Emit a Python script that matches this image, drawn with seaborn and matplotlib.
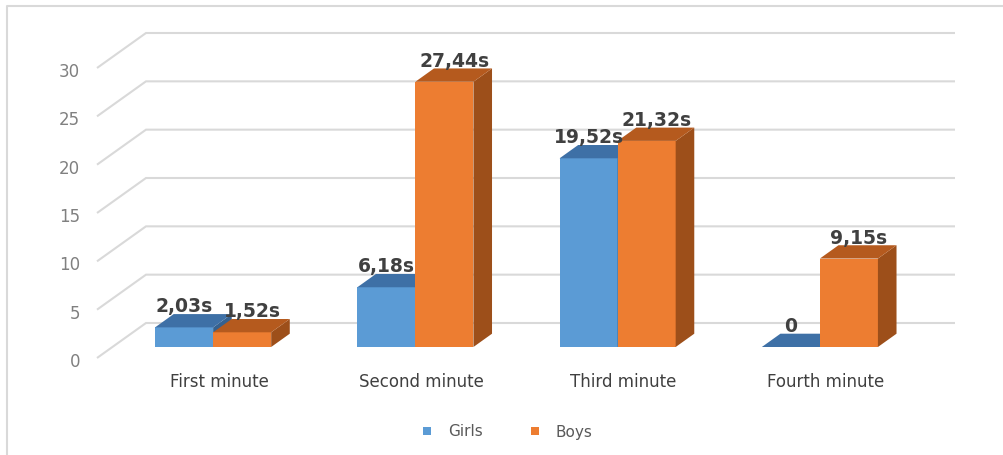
import matplotlib
matplotlib.use("Agg")
import matplotlib.pyplot as plt
import numpy as np
import pandas as pd
import seaborn as sns
from matplotlib.patches import Polygon
from matplotlib.lines import Line2D
from matplotlib.transforms import ScaledTranslation

# ---- data -------------------------------------------------------------
minutes = ["First minute", "Second minute", "Third minute", "Fourth minute"]
groups = ["Girls", "Boys"]
girls = [2.03, 6.18, 19.52, 0.0]
boys = [1.52, 27.44, 21.32, 9.15]
y_ticks = [0, 5, 10, 15, 20, 25, 30]

front_colors = {"Girls": "#5B9BD5", "Boys": "#ED7D31"}
top_colors = {"Girls": "#3E70A6", "Boys": "#B55A1E"}
side_colors = {"Girls": "#35618F", "Boys": "#9D4F1A"}

df = pd.DataFrame({
    "minute": minutes * 2,
    "seconds": girls + boys,
    "group": ["Girls"] * len(girls) + ["Boys"] * len(boys),
})

# ---- figure -------------------------------------------------------------
sns.set_style("white")
plt.rcParams["font.family"] = ["DejaVu Sans"]

W, H = 1004, 455
fig = plt.figure(figsize=(W / 100, H / 100), dpi=100)
fig.patch.set_facecolor("white")

# the axes is the plane holding the front faces of the bars
ax = fig.add_axes([112 / W, (H - 347) / H, 809 / W, 290 / H])
ax.set_facecolor("none")
sns.barplot(data=df, x="minute", y="seconds", hue="group", order=minutes,
            hue_order=groups, palette=front_colors, saturation=1,
            width=0.574, linewidth=0, ax=ax)
ax.set_xlim(-0.5, len(minutes) - 0.5)
ax.set_ylim(0, 30)
for s in ax.spines.values():
    s.set_visible(False)
ax.set_xlabel("")
ax.set_ylabel("")


def px(dx, dy):
    """Screen offset in pixels (right, up) -> offset in data units."""
    inv = ax.transData.inverted()
    x0, y0 = inv.transform((0, 0))
    x1, y1 = inv.transform((dx, dy))
    return x1 - x0, y1 - y0


# perspective offsets of the 3-D box
back_dx, back_dy = px(34, 24)        # bar front plane -> back wall
edge_dx, edge_dy = px(-15, -11)      # bar front plane -> front edge of floor
depth_dx, depth_dy = px(18.6, 13.3)  # depth of one bar

# back wall gridlines with their slanted floor-side segments
x_left, x_right = ax.get_xlim()
for v in y_ticks:
    ax.plot([x_left + edge_dx, x_left + back_dx, x_right + back_dx],
            [v + edge_dy, v + back_dy, v + back_dy],
            color="#d9d9d9", lw=1.5, clip_on=False, zorder=0.5,
            solid_joinstyle="miter", solid_capstyle="butt")

# extrude the bars: side and top faces, painted left to right
front_to_group = {matplotlib.colors.to_hex(c).lower(): g
                  for g, c in front_colors.items()}
bars = []
for container in ax.containers:
    for p in container:
        g = front_to_group.get(matplotlib.colors.to_hex(p.get_facecolor()).lower())
        if g is not None and p.get_width() > 0:
            bars.append((p, g))
bars.sort(key=lambda t: t[0].get_x())

for rank, (p, g) in enumerate(bars):
    x0, w, h = p.get_x(), p.get_width(), p.get_height()
    x1 = x0 + w
    z = 2 + rank * 0.1
    p.set_zorder(z)
    side = Polygon([(x1, 0), (x1 + depth_dx, depth_dy),
                    (x1 + depth_dx, h + depth_dy), (x1, h)],
                   closed=True, facecolor=side_colors[g], edgecolor="none",
                   zorder=z + 0.01, clip_on=False)
    top = Polygon([(x0, h), (x1, h), (x1 + depth_dx, h + depth_dy),
                   (x0 + depth_dx, h + depth_dy)],
                  closed=True, facecolor=top_colors[g], edgecolor="none",
                  zorder=z + 0.02, clip_on=False)
    ax.add_patch(side)
    ax.add_patch(top)

    label = "0" if h == 0 else f"{h:.2f}".replace(".", ",") + "s"
    ax.annotate(label, xy=(x0 + w / 2, h),
                xytext=(0 if g == "Girls" else 10, 15),
                textcoords="offset pixels", ha="center", va="baseline",
                fontsize=13.5, fontweight="bold", color="#404040",
                zorder=10, annotation_clip=False)

# axis labels
ax.set_yticks(y_ticks)
ax.set_yticklabels([str(v) for v in y_ticks])
ax.tick_params(axis="y", length=0, pad=23, labelsize=12, labelcolor="#808080")
for lbl in ax.get_yticklabels():
    lbl.set_transform(lbl.get_transform() +
                      ScaledTranslation(0, -0.13, fig.dpi_scale_trans))
ax.tick_params(axis="x", length=0, pad=18.5, labelsize=12, labelcolor="#404040")
for lbl in ax.get_xticklabels():
    lbl.set_transform(lbl.get_transform() +
                      ScaledTranslation(0.06, 0, fig.dpi_scale_trans))

sns.move_legend(ax, "center", bbox_to_anchor=(508 / W, 1 - 432 / H),
                bbox_transform=fig.transFigure, ncol=2, frameon=False,
                title=None, fontsize=11, handlelength=0.5, handleheight=0.5,
                handletextpad=1.1, columnspacing=3.2, labelcolor="#595959")

# chart frame (left and top edges)
fig.add_artist(Line2D([7.5 / W, 7.5 / W, 1.0], [0.0, 1 - 5.5 / H, 1 - 5.5 / H],
                      transform=fig.transFigure, color="#d9d9d9", lw=1.5))

fig.savefig("out.png", dpi=100)
